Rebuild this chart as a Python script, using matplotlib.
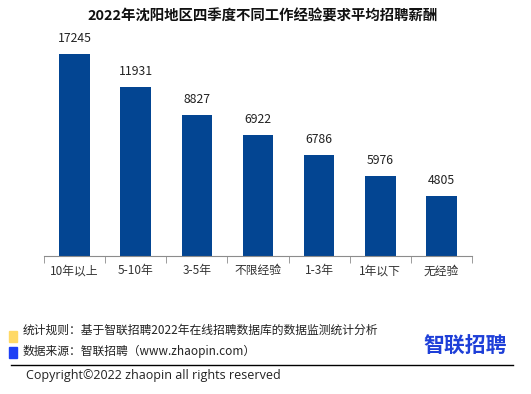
import matplotlib.pyplot as plt
from matplotlib.patches import Rectangle
from matplotlib.lines import Line2D

plt.rcParams['font.family'] = ['Noto Sans CJK SC', 'DejaVu Sans']

# chart data
categories = ['10年以上', '5-10年', '3-5年', '不限经验', '1-3年', '1年以下', '无经验']
salaries = [17245, 11931, 8827, 6922, 6786, 5976, 4805]
# the source chart does not draw bars to scale; these are the bar lengths
# as drawn, read off the picture on the same axis units
bar_heights = [17245, 14450, 12040, 10330, 8620, 6860, 5120]

title = '2022年沈阳地区四季度不同工作经验要求平均招聘薪酬'
note_rule = '统计规则：基于智联招聘2022年在线招聘数据库的数据监测统计分析'
note_src = '数据来源：智联招聘（www.zhaopin.com）'
copyright_txt = 'Copyright©2022 zhaopin all rights reserved'

W, H = 531, 394
fig = plt.figure(figsize=(W / 100, H / 100), dpi=100)

ax = fig.add_axes([44 / W, 138 / H, 428 / W, 216 / H])
x = list(range(len(categories)))
bars = ax.bar(x, bar_heights, width=0.5, color='#034592')
ax.set_xlim(-0.5, len(categories) - 0.5)
ax.set_ylim(0, 17245 * 216 / 202)

for b, v in zip(bars, salaries):
    ax.annotate(str(v), (b.get_x() + b.get_width() / 2, b.get_height()),
                xytext=(0, 6.5), textcoords='offset points',
                ha='center', va='bottom', fontsize=8.8, color='#222222')

for s in ['top', 'right', 'left']:
    ax.spines[s].set_visible(False)
ax.spines['bottom'].set_color('#8c8c8c')
ax.set_yticks([])
ax.set_xticks(x)
ax.set_xticklabels(categories, fontsize=8.5, color='#333333')
ax.tick_params(axis='x', which='major', length=0, pad=6)
ax.set_xticks([i - 0.5 for i in range(len(categories) + 1)], minor=True)
ax.tick_params(axis='x', which='minor', length=5, color='#8c8c8c')

fig.text(263 / W, 1 - 17 / H, title, ha='center', va='center',
         fontsize=10.4, fontweight='bold', color='#111111')

# footer
fig.patches.append(Rectangle((9 / W, 1 - 342 / H), 8 / W, 11 / H,
                             transform=fig.transFigure, color='#FFD966'))
fig.patches.append(Rectangle((9 / W, 1 - 358 / H), 8 / W, 11 / H,
                             transform=fig.transFigure, color='#1D3FF5'))
fig.text(23 / W, 1 - 330 / H, note_rule, ha='left', va='center',
         fontsize=8.5, color='#222222')
fig.text(23 / W, 1 - 351.5 / H, note_src, ha='left', va='center',
         fontsize=8.5, color='#222222')
fig.text(465 / W, 1 - 346 / H, '智联招聘', ha='center', va='center',
         fontsize=15, fontweight='bold', color='#1E3FD8')
fig.lines.append(Line2D([11 / W, 513 / W], [1 - 365 / H, 1 - 365 / H],
                        transform=fig.transFigure, color='black', lw=1))
fig.text(26 / W, 1 - 375 / H, copyright_txt, ha='left', va='center',
         fontsize=9, color='#222222', family=['Open Sans', 'DejaVu Sans'])

fig.savefig('out.png', dpi=100)
